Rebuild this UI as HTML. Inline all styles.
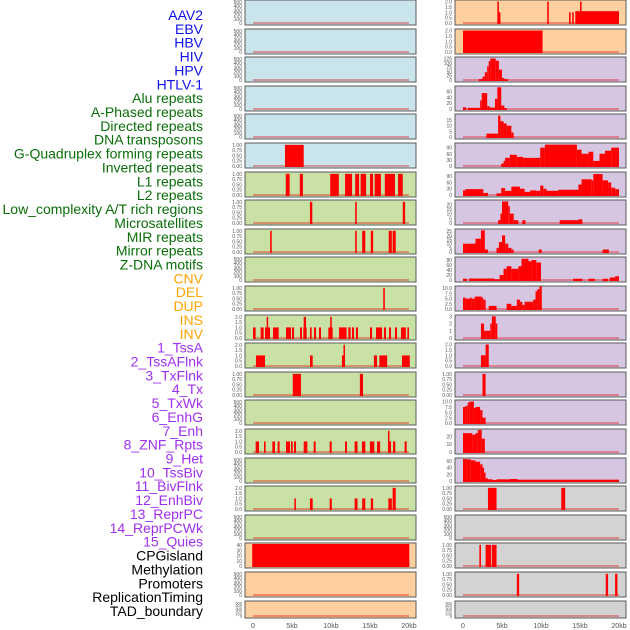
<!DOCTYPE html>
<html><head><meta charset="utf-8"><style>
html,body{margin:0;padding:0;background:#fff;}
svg{display:block;font-family:"Liberation Sans",sans-serif;}
</style></head><body>
<svg id="chart" width="630" height="630" viewBox="0 0 630 630" xmlns="http://www.w3.org/2000/svg"></svg>
<script>
// ---- data ----
const trackLabels = ["AAV2","EBV","HBV","HIV","HPV","HTLV-1","Alu repeats","A-Phased repeats","Directed repeats","DNA transposons","G-Quadruplex forming repeats","Inverted repeats","L1 repeats","L2 repeats","Low_complexity A/T rich regions","Microsatellites","MIR repeats","Mirror repeats","Z-DNA motifs","CNV","DEL","DUP","INS","INV","1_TssA","2_TssAFlnk","3_TxFlnk","4_Tx","5_TxWk","6_EnhG","7_Enh","8_ZNF_Rpts","9_Het","10_TssBiv","11_BivFlnk","12_EnhBiv","13_ReprPC","14_ReprPCWk","15_Quies","CPGisland","Methylation","Promoters","ReplicationTiming","TAD_boundary"];
const labelColors = ["#1010e8","#1010e8","#1010e8","#1010e8","#1010e8","#1010e8","#0a6e0a","#0a6e0a","#0a6e0a","#0a6e0a","#0a6e0a","#0a6e0a","#0a6e0a","#0a6e0a","#0a6e0a","#0a6e0a","#0a6e0a","#0a6e0a","#0a6e0a","#ffa500","#ffa500","#ffa500","#ffa500","#ffa500","#a030ee","#a030ee","#a030ee","#a030ee","#a030ee","#a030ee","#a030ee","#a030ee","#a030ee","#a030ee","#a030ee","#a030ee","#a030ee","#a030ee","#a030ee","#000","#000","#000","#000","#000"];
const xTickValues = [0,5,10,15,20];
const xTickLabels = ["0","5kb","10kb","15kb","20kb"];
const E = ["0","100","200","300","400","500"];
const B1 = ["0.00","0.25","0.50","0.75","1.00"];
const B2 = ["0.0","0.5","1.0","1.5","2.0"];
const leftBg = ["#c9e4eb","#c9e4eb","#c9e4eb","#c9e4eb","#c9e4eb","#c9e4eb","#c9e1a5","#c9e1a5","#c9e1a5","#c9e1a5","#c9e1a5","#c9e1a5","#c9e1a5","#c9e1a5","#c9e1a5","#c9e1a5","#c9e1a5","#c9e1a5","#c9e1a5","#ffd09f","#ffd09f","#ffd09f"];
const rightBg = ["#ffd09f","#ffd09f","#d6c6e2","#d6c6e2","#d6c6e2","#d6c6e2","#d6c6e2","#d6c6e2","#d6c6e2","#d6c6e2","#d6c6e2","#d6c6e2","#d6c6e2","#d6c6e2","#d6c6e2","#d6c6e2","#d6c6e2","#d3d3d3","#d3d3d3","#d3d3d3","#d3d3d3","#d3d3d3"];
const leftTicks = [E,E,E,E,E,B1,B1,B1,B1,E,B1,B2,B2,B1,E,B2,E,B2,E,["0","10","20","30","40"],E,E];
const leftYmax = [520,520,520,520,520,1.04,1.04,1.04,1.04,520,1.04,2.08,2.08,1.04,520,2.08,520,2.08,520,42,520,520];
const rightTicks = [B2,B2,["0","25","50","75","100","125"],["0","20","40","60"],["0","5","10","15"],["0","30","60","90"],["0","30","60","90"],["0","5","10","15","20"],["0","5","10","15","20","25"],["0","20","40","60","80"],["0.0","2.5","5.0","7.5","10.0"],["0","1","2","3"],B2,B1,["0.0","2.5","5.0","7.5","10.0"],["0","10","20"],["0","20","40","60"],B1,E,B1,B1,E];
const rightYmax = [2.05,2.05,128,76,19.5,108,105,23.5,26.5,88,10.6,3.05,2.05,1.04,10.3,28,66,1.04,520,1.04,1.04,520];
// segments: [startKb, endKb, value]
const leftBars = [
 [],[],[],[],[],
 [[4.1,6.5,1]],
 [[4.2,4.7,1],[6.0,6.4,1],[9.9,11.0,1],[11.8,12.7,1],[13.1,13.6,1],[13.8,14.5,1],[15.0,15.4,1],[15.6,16.4,1],[16.9,18.2,1],[18.6,19.2,1]],
 [[7.3,7.6,1],[13.1,13.3,1],[19.2,19.5,1]],
 [[2.2,2.4,1],[13.1,13.3,1],[14.0,14.4,1],[15.1,15.4,1],[17.4,17.8,1],[17.9,18.3,1]],
 [],
 [[16.7,16.9,1]],
 [[0,0.34,1],[0.98,1.37,1],[1.54,2.18,1],[1.75,1.88,2],[2.56,3.29,1],[4.23,4.87,1],[5.0,5.26,1],[6.03,6.28,1],[6.45,6.88,1],[6.5,6.8,2],[7.31,7.52,1],[7.82,8.08,1],[8.46,8.72,1],[9.66,10.21,1],[9.9,10.1,2],[11.03,12.0,1],[12.22,12.52,1],[12.69,12.95,1],[13.2,13.46,1],[15.0,15.26,1],[15.77,16.54,1],[16.79,17.05,1],[17.44,17.69,1],[18.2,18.46,1],[18.97,19.6,1],[19.79,20.0,1]],
 [[0.38,1.54,1],[7.31,7.65,1],[11.4,11.8,1],[11.6,11.75,2],[15.5,15.9,1],[16.2,17.2,1],[19.1,20.1,1]],
 [[5.1,6.15,1],[13.7,14.1,1]],
 [],
 [[0.34,0.77,1],[1.41,1.62,1],[2.48,2.82,1],[3.16,3.41,1],[4.23,4.74,1],[4.87,5.09,1],[5.26,5.51,1],[6.5,6.97,1],[7.78,8.03,1],[9.83,10.09,1],[11.8,12.05,1],[13.03,13.4,1],[13.97,14.4,1],[14.99,15.55,1],[15.9,16.3,1],[17.3,17.5,2],[17.5,17.7,1],[17.95,18.25,1],[19.44,19.7,1]],
 [],
 [[5.3,5.5,1],[7.3,7.65,1],[9.83,10.1,1],[13.03,13.4,1],[14.0,14.4,1],[15.1,15.4,1],[17.35,17.8,1],[17.9,18.3,2]],
 [],
 [[-0.1,20.04,42]],
 [],[]
];
const rightBars = [
 [[4.4,4.6,2],[4.5,4.8,1],[10.8,11.0,2],[13.6,13.8,1],[14.0,14.2,1],[14.4,20.0,1.1],[15.0,15.2,2]],
 [[0,10.2,2]],
 [[2.0,2.5,5],[2.5,2.8,20],[2.8,3.1,45],[3.1,3.3,80],[3.3,3.5,110],[3.5,4.2,125],[4.2,4.6,112],[4.6,5.0,60],[5.0,5.3,12],[5.3,5.8,5]],
 [[0,0.4,6],[0.6,2.2,4],[2.2,2.4,30],[2.4,3.1,55],[3.1,3.4,10],[3.4,4.1,5],[4.1,4.4,35],[4.4,4.9,75],[4.9,5.3,12],[5.3,5.6,3]],
 [[3.0,4.5,3],[4.5,4.8,19],[4.8,5.2,14],[5.2,5.6,12],[5.6,6.2,10],[6.2,6.5,4]],
 [[4.9,5.2,12],[5.2,5.4,25],[5.4,6.0,40],[6.0,6.9,55],[6.9,7.7,45],[7.7,9.9,40],[9.9,10.5,90],[10.5,14.6,105],[14.6,15.2,80],[15.2,16.1,60],[16.1,16.7,70],[16.7,17.5,25],[17.5,18.2,60],[18.2,19.0,75],[19.0,20.0,90]],
 [[0,0.3,22],[0.3,2.6,28],[2.6,3.2,10],[4.3,4.9,8],[4.9,5.4,33],[5.4,6.2,20],[6.2,7.3,40],[7.3,7.9,30],[7.9,8.6,15],[8.6,9.4,22],[9.4,9.9,20],[9.9,10.3,45],[10.3,10.7,30],[10.7,12.2,20],[12.2,14.8,25],[14.8,15.2,50],[15.2,16.5,75],[16.5,16.7,70],[16.7,17.9,100],[17.9,18.6,70],[18.6,19.0,60],[19.0,19.5,35],[19.5,20.0,28]],
 [[4.5,4.8,3],[4.8,5.0,10],[5.0,5.8,23],[5.8,6.0,18],[6.0,6.5,10],[6.5,7.1,3],[7.6,8.0,3],[12.4,14.8,3],[14.8,15.3,4]],
 [[0,0.3,10],[0.3,1.6,10],[1.6,2.3,16],[2.3,2.8,26],[2.8,3.2,3],[4.3,4.6,5],[4.6,5.0,12],[5.0,5.4,20],[5.4,5.8,10],[5.8,6.2,5],[6.2,6.5,3],[9.7,10.1,3],[17.9,18.7,3]],
 [[0,0.5,5],[0.8,4.0,6],[4.0,4.7,3],[4.7,5.2,20],[5.2,5.6,45],[5.6,6.2,55],[6.2,7.1,45],[7.1,7.5,55],[7.5,8.4,85],[8.4,8.8,75],[8.8,9.4,80],[9.4,10.0,70],[14.1,15.3,5],[16.1,16.9,5],[17.9,18.6,5],[18.8,19.5,10],[19.5,20.0,15]],
 [[0,0.3,5.5],[0.3,0.9,5],[0.9,1.1,5.5],[1.1,1.5,5],[1.5,2.4,6],[2.4,2.6,5.5],[2.6,2.9,4.5],[3.3,4.3,1.5],[5.6,6.2,2.5],[6.2,6.9,1.5],[6.9,7.3,4.5],[7.3,7.6,3.5],[7.6,7.9,2],[7.9,9.0,3.5],[9.0,9.3,4.5],[9.3,9.5,8.5],[9.5,9.8,9.5],[9.8,10.1,11]],
 [[2.3,2.7,2],[2.7,3.0,1],[3.0,3.5,1],[3.5,3.7,2],[3.7,4.2,3],[4.2,4.4,2]],
 [[2.3,2.9,1],[2.9,3.3,2]],
 [[2.5,2.9,1]],
 [[0,0.3,7.5],[0.3,0.6,8],[0.6,0.8,9.5],[0.8,1.4,10],[1.4,1.6,7],[1.6,2.2,7.5],[2.2,2.5,6],[2.5,2.9,2.5]],
 [[0,1.2,24],[1.2,1.6,22],[1.6,1.9,24],[1.9,2.4,28],[2.4,2.8,17]],
 [[0,0.5,66],[0.5,1.0,65],[1.0,1.6,62],[1.6,2.2,58],[2.2,2.5,50],[2.5,2.7,40],[2.7,2.9,25],[2.9,3.2,8],[3.2,3.8,5],[3.8,4.3,3],[4.3,6.0,5],[6.0,7.0,6],[7.0,20.0,4]],
 [[3.2,4.3,1],[12.6,13.1,1]],
 [],
 [[2.1,2.3,1],[2.9,3.6,1],[3.7,4.3,1]],
 [[6.9,7.2,1],[18.3,18.6,1],[19.5,19.8,1]],
 []
];
// ---- geometry ----
const NS = "http://www.w3.org/2000/svg";
const svg = document.getElementById("chart");
const PX_PER_KB = 7.8;
const cols = [{x0:245,x1:416,origin:253,bars:leftBars,ticks:leftTicks,ymax:leftYmax,bg:leftBg,side:"left"},
              {x0:455,x1:626,origin:463,bars:rightBars,ticks:rightTicks,ymax:rightYmax,bg:rightBg,side:"right"}];
function mk(tag, attrs){const e=document.createElementNS(NS,tag);for(const k in attrs)e.setAttribute(k,attrs[k]);return e;}
function rowTop(i){return Math.round(i*28.6);}
function rowH(i){return i===21?17:25;}

// labels
trackLabels.forEach((t,i)=>{
  const el = mk("text",{x:203,y:15+i*13.86+5,"text-anchor":"end","font-size":"14",fill:labelColors[i]});
  el.textContent=t;
  
  
  svg.appendChild(el);
});

cols.forEach(c=>{
  const xs = kb => c.origin + kb*PX_PER_KB;
  for(let i=0;i<22;i++){
    const top=rowTop(i), h=rowH(i);
    const y0 = top+h-2, y1 = top+1;
    const ys = v => y0 - (v/c.ymax[i])*(y0-y1);
    const g = mk("g",{});
    
    
    const bg = mk("rect",{x:c.x0,y:top,width:c.x1-c.x0,height:h,fill:c.bg[i],stroke:"#5a5a5a","stroke-width":"1"});
    
    
    g.appendChild(bg);
    const base = mk("rect",{x:xs(0),y:y0-1,width:xs(20)-xs(0),height:2,fill:"rgba(230,0,0,0.35)"});
    
    
    g.appendChild(base);
    c.bars[i].forEach(s=>{
      const xa=Math.max(xs(s[0]),c.x0+1), xb=Math.min(xs(s[1]),c.x1-1);
      const yt = Math.max(ys(s[2]), top+0.5);
      const r = mk("rect",{x:xa,y:yt,width:Math.max(xb-xa,1.5),height:y0+1-yt,fill:"#ff0000"});
      
      
      g.appendChild(r);
    });
    const tk = c.ticks[i];
    const fs = i===21?4:5;
    tk.forEach(lbl=>{
      const v=parseFloat(lbl);
      const t = mk("text",{x:c.x0-3,y:ys(v)+2,"text-anchor":"end","font-size":fs,fill:"#555"});
      t.textContent=lbl;
      
      
      g.appendChild(t);
    });
    svg.appendChild(g);
  }
  xTickValues.forEach((v,k)=>{
    const t = mk("text",{x:xs(v),y:628,"text-anchor":"middle","font-size":"7",fill:"#555"});
    t.textContent=xTickLabels[k];
    
    
    svg.appendChild(t);
  });
});
</script>
</body></html>
